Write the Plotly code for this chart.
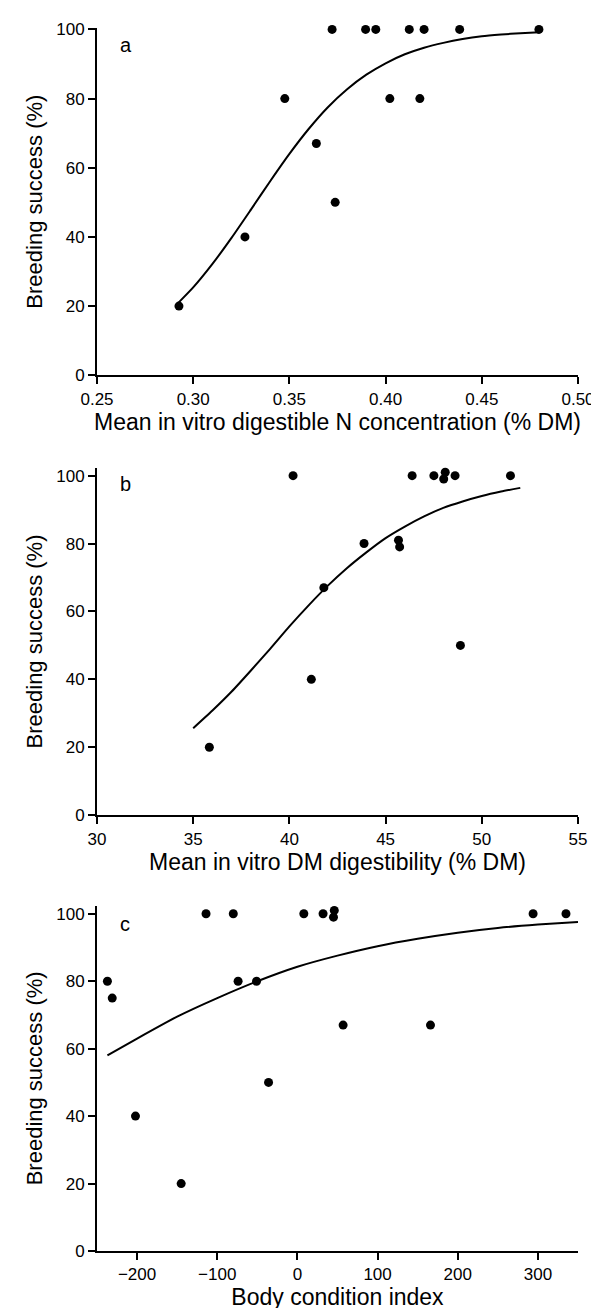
import plotly.graph_objects as go

# ---------------- data ----------------
# panel a: digestible N
a_x = [0.2926, 0.3269, 0.3476, 0.3640, 0.3738, 0.3722, 0.3896, 0.3949, 0.4022, 0.4123, 0.4178, 0.4200, 0.4385, 0.4797]
a_y = [20, 40, 80, 67, 50, 100, 100, 100, 80, 100, 80, 100, 100, 100]
a_fit_x = [0.292, 0.300, 0.310, 0.320, 0.330, 0.340, 0.350, 0.360, 0.370, 0.380,
           0.390, 0.400, 0.410, 0.420, 0.430, 0.440, 0.450, 0.460, 0.470, 0.480]
a_fit_y = [20.8, 25.4, 32.2, 39.8, 47.9, 56.1, 64.0, 71.2, 77.5, 82.7,
           86.9, 90.2, 92.8, 94.7, 96.1, 97.2, 98.0, 98.5, 98.9, 99.2]

# panel b: DM digestibility
b_x = [35.84, 40.19, 41.14, 41.79, 43.88, 45.67, 45.73, 46.38, 47.51, 48.02, 48.10, 48.61, 48.89, 51.49]
b_y = [20, 100, 40, 67, 80, 81, 79, 100, 100, 99, 101, 100, 50, 100]
b_fit_x = [35, 36, 37, 38, 39, 40, 41, 42, 43, 44, 45, 46, 47, 48, 49, 50, 51, 52]
b_fit_y = [25.6, 30.8, 36.4, 42.6, 49, 55.6, 61.8, 67.6, 72.8, 77.4, 81.6, 85, 88, 90.5, 92.4, 94, 95.3, 96.4]

# panel c: body condition index
c_x = [-237, -231, -202, -145, -114, -80, -74, -51, -36, 8, 32, 46, 45, 57, 166, 294, 335]
c_y = [80, 75, 40, 20, 100, 100, 80, 80, 50, 100, 100, 101, 99, 67, 67, 100, 100]
c_fit_x = [-237, -200, -150, -100, -50, 0, 50, 100, 150, 200, 250, 300, 350]
c_fit_y = [58, 63, 69.5, 75, 80, 84.3, 87.6, 90.4, 92.6, 94.4, 95.8, 96.8, 97.6]

panel_letters = ["a", "b", "c"]
x_titles = ["Mean in vitro digestible N concentration (% DM)",
            "Mean in vitro DM digestibility (% DM)",
            "Body condition index"]
y_title = "Breeding success (%)"

# ---------------- figure ----------------
FONT = "Liberation Sans, Arial, sans-serif"
fig = go.Figure()

panels = [
    (a_x, a_y, a_fit_x, a_fit_y, "x", "y"),
    (b_x, b_y, b_fit_x, b_fit_y, "x2", "y2"),
    (c_x, c_y, c_fit_x, c_fit_y, "x3", "y3"),
]
for px, py, fx, fy, xa, ya in panels:
    fig.add_trace(go.Scatter(x=fx, y=fy, mode="lines", xaxis=xa, yaxis=ya,
                             line=dict(color="black", width=2, shape="spline", smoothing=0.6),
                             showlegend=False, hoverinfo="skip"))
    fig.add_trace(go.Scatter(x=px, y=py, mode="markers", xaxis=xa, yaxis=ya,
                             marker=dict(color="black", size=9, symbol="circle"),
                             showlegend=False, cliponaxis=False))

axis_common = dict(showline=True, linecolor="black", linewidth=2, ticks="outside",
                   ticklen=7, tickwidth=2, tickcolor="black", showgrid=False,
                   zeroline=False, tickfont=dict(size=17, color="black", family=FONT))

x_ranges = [[0.25, 0.50], [30, 55], [-250, 350]]
x_dticks = [0.05, 5, 100]
x_tick0 = [0.25, 30, 0]
x_formats = [".2f", "d", "d"]
y_ranges = [[0, 100.4], [0, 102.3], [0, 102.4]]
y_domains = [[0.71603, 1.0], [0.35639, 0.64036], [0.0, 0.28234]]

layout = dict(width=599, height=1308, plot_bgcolor="white", paper_bgcolor="white",
              margin=dict(l=89, r=26, t=15, b=64),
              font=dict(family=FONT, color="black"))
for i in range(3):
    sfx = "" if i == 0 else str(i + 1)
    layout["xaxis" + sfx] = dict(axis_common, range=x_ranges[i], dtick=x_dticks[i],
                                 tick0=x_tick0[i], tickformat=x_formats[i],
                                 anchor="y" + sfx, domain=[0, 1],
                                 title=dict(text=x_titles[i], standoff=3,
                                            font=dict(size=23, family=FONT, color="black")))
    layout["yaxis" + sfx] = dict(axis_common, range=y_ranges[i], dtick=20, tick0=0,
                                 anchor="x" + sfx, domain=y_domains[i],
                                 title=dict(text=y_title, standoff=8,
                                            font=dict(size=22, family=FONT, color="black")))
fig.update_layout(**layout)

letter_y = [0.951, 0.954, 0.948]
for i in range(3):
    sfx = "" if i == 0 else str(i + 1)
    fig.add_annotation(text=panel_letters[i], xref=("x" + sfx + " domain"),
                       yref=("y" + sfx + " domain"), x=0.043, y=letter_y[i],
                       xanchor="left", yanchor="middle", showarrow=False,
                       font=dict(size=20, family=FONT, color="black"))

fig.write_html("out.html")
